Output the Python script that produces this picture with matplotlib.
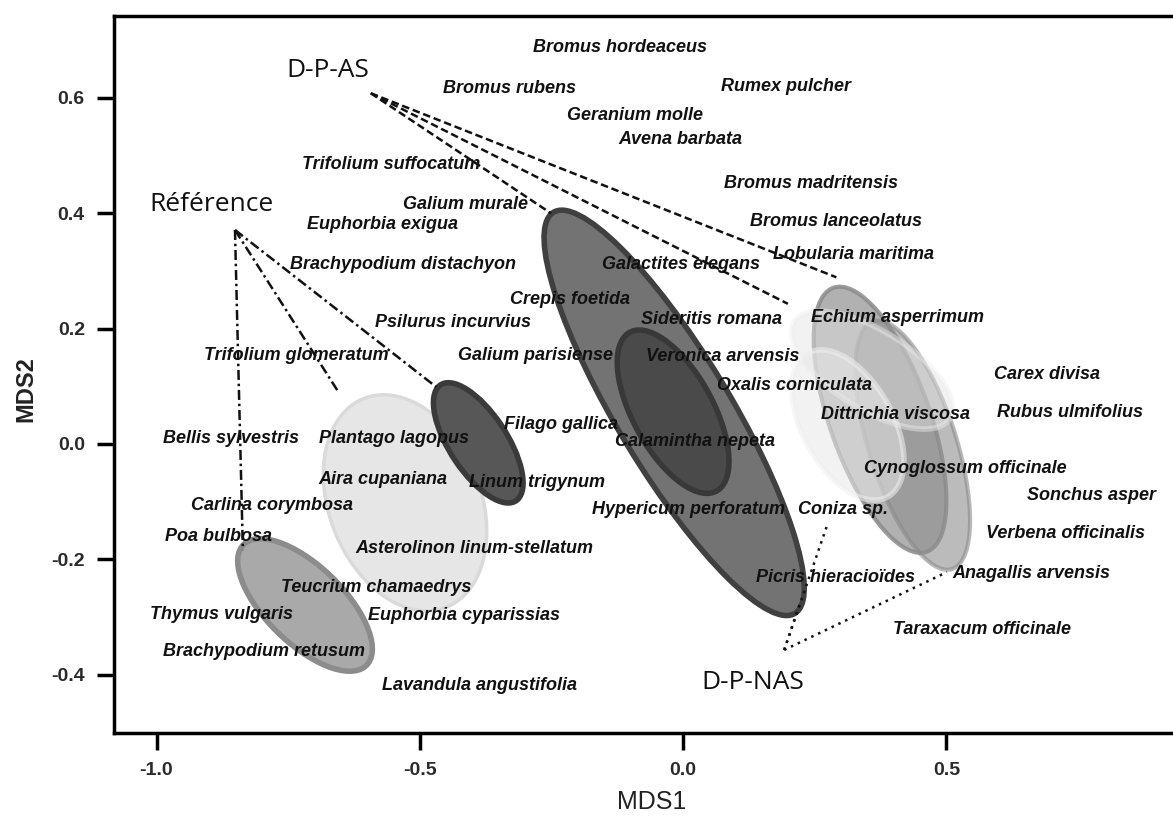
import numpy as np
import matplotlib
matplotlib.use("Agg")
import matplotlib.pyplot as plt
from matplotlib.patches import Ellipse

# species scores (MDS1, MDS2)
species = [
    "Bromus hordeaceus", "Bromus rubens", "Rumex pulcher", "Geranium molle",
    "Avena barbata", "Trifolium suffocatum", "Bromus madritensis", "Galium murale",
    "Euphorbia exigua", "Bromus lanceolatus", "Lobularia maritima", "Galactites elegans",
    "Brachypodium distachyon", "Crepis foetida", "Psilurus incurvius", "Sideritis romana",
    "Echium asperrimum", "Trifolium glomeratum", "Galium parisiense", "Veronica arvensis",
    "Oxalis corniculata", "Carex divisa", "Dittrichia viscosa", "Rubus ulmifolius",
    "Bellis sylvestris", "Plantago lagopus", "Filago gallica", "Calamintha nepeta",
    "Aira cupaniana", "Linum trigynum", "Cynoglossum officinale", "Sonchus asper",
    "Carlina corymbosa", "Hypericum perforatum", "Coniza sp.", "Verbena officinalis",
    "Poa bulbosa", "Asterolinon linum-stellatum", "Picris hieracioïdes", "Anagallis arvensis",
    "Teucrium chamaedrys", "Thymus vulgaris", "Euphorbia cyparissias", "Taraxacum officinale",
    "Brachypodium retusum", "Lavandula angustifolia",
]
mds1 = [
    -0.120, -0.330, 0.196, -0.091,
    -0.006, -0.555, 0.243, -0.414,
    -0.570, 0.291, 0.323, -0.004,
    -0.532, -0.215, -0.437, 0.053,
    0.407, -0.735, -0.281, 0.076,
    0.211, 0.691, 0.403, 0.735,
    -0.858, -0.549, -0.232, 0.023,
    -0.570, -0.277, 0.536, 0.775,
    -0.781, 0.010, 0.304, 0.727,
    -0.883, -0.397, 0.289, 0.661,
    -0.583, -0.876, -0.416, 0.568,
    -0.796, -0.387,
]
mds2 = [
    0.688, 0.617, 0.619, 0.570,
    0.527, 0.484, 0.452, 0.416,
    0.380, 0.385, 0.329, 0.312,
    0.312, 0.250, 0.211, 0.215,
    0.220, 0.153, 0.153, 0.151,
    0.102, 0.121, 0.052, 0.055,
    0.009, 0.009, 0.033, 0.005,
    -0.061, -0.066, -0.042, -0.090,
    -0.106, -0.113, -0.114, -0.156,
    -0.161, -0.182, -0.232, -0.224,
    -0.248, -0.295, -0.298, -0.322,
    -0.360, -0.418,
]

# site groups and the pointer lines to their ellipses
groups = ["D-P-AS", "Référence", "D-P-NAS"]
group_x = [-0.674, -0.895, 0.133]
group_y = [0.648, 0.416, -0.414]
link_x0 = [-0.593, -0.851, 0.192]
link_y0 = [0.608, 0.371, -0.357]
link_x1 = [[-0.251, 0.199, 0.291], [-0.836, -0.653, -0.469], [0.275, 0.501, 0.222]]
link_y1 = [[0.400, 0.243, 0.289], [-0.184, 0.088, 0.099], [-0.137, -0.222, -0.276]]

# dispersion ellipses (centre, full axes, angle) in MDS units
ell_x = [-0.528, -0.718, -0.389, -0.017, -0.019, 0.374, 0.436, 0.359, 0.313]
ell_y = [-0.102, -0.279, 0.002, 0.054, 0.056, 0.042, -0.002, 0.128, 0.033]
ell_w = [0.395, 0.314, 0.247, 0.833, 0.321, 0.491, 0.455, 0.340, 0.292]
ell_h = [0.284, 0.140, 0.107, 0.210, 0.149, 0.188, 0.165, 0.140, 0.167]
ell_a = [-62.9, -40.4, -53.5, -56.3, -57.9, -68.3, -70.4, -28.7, -56.6]

face = ["#e6e6e6", "#a9a9a9", "#575757", "#737373", "#4a4a4a",
        "#a4a4a4", "#8e8e8e", "#e4e4e4", "#e8e8e8"]
edge = ["#dadada", "#8c8c8c", "#3a3a3a", "#404040", "#383838",
        "#8a8a8a", "#8a8a8a", "#eeeeee", "#f0f0f0"]
alpha = [1, 1, 1, 1, 1, 0.85, 0.6, 0.45, 0.55]
lw = [2.5, 4, 4, 4, 4, 3, 3, 4, 4]

link_style = [(0, (3, 1.5)), (0, (4, 1.5, 1, 1.5)), (0, (1, 2))]

fig = plt.figure(figsize=(11.73, 8.19), dpi=100)
ax = fig.add_axes([0.0972, 0.105, 0.926, 0.8755])

for i in range(len(ell_x)):
    ax.add_patch(Ellipse((ell_x[i], ell_y[i]), ell_w[i], ell_h[i], angle=ell_a[i],
                         facecolor=face[i], edgecolor=edge[i], alpha=alpha[i],
                         linewidth=lw[i], zorder=1 + i * 0.01))

for g in range(len(groups)):
    for k in range(len(link_x1[g])):
        ax.plot([link_x0[g], link_x1[g][k]], [link_y0[g], link_y1[g][k]],
                color="#111111", lw=1.8, linestyle=link_style[g], zorder=2)
    ax.text(group_x[g], group_y[g], groups[g], ha="center", va="center",
            fontsize=19, family="Open Sans", color="#111111", zorder=4)

for name, x, y in zip(species, mds1, mds2):
    ax.text(x, y, name, ha="center", va="center", fontsize=13,
            family="Liberation Sans", fontweight="bold", fontstyle="italic",
            color="#111111", zorder=3)

ax.set_xlim(-1.0807, 0.982)
ax.set_ylim(-0.501, 0.742)
ax.set_xticks([-1.0, -0.5, 0.0, 0.5])
ax.set_xticklabels(["-1.0", "-0.5", "0.0", "0.5"])
ax.set_yticks([-0.4, -0.2, 0.0, 0.2, 0.4, 0.6])
ax.set_yticklabels(["-0.4", "-0.2", "0.0", "0.2", "0.4", "0.6"])
ax.tick_params(direction="out", length=12, width=2.5, pad=9,
               labelsize=14, labelcolor="#2a2a2a")
for sp in ax.spines.values():
    sp.set_linewidth(2.5)
for lab in ax.get_xticklabels() + ax.get_yticklabels():
    lab.set_family("Liberation Sans")
    lab.set_fontweight("bold")

ax.set_xlabel("MDS1", fontsize=18, family="Liberation Sans", color="#222222")
ax.set_ylabel("MDS2", fontsize=17, family="Liberation Sans", fontweight="bold",
              color="#222222")
ax.xaxis.set_label_coords(0.495, -0.079)
ax.yaxis.set_label_coords(-0.071, 0.48)

fig.savefig("out.png", dpi=100)
